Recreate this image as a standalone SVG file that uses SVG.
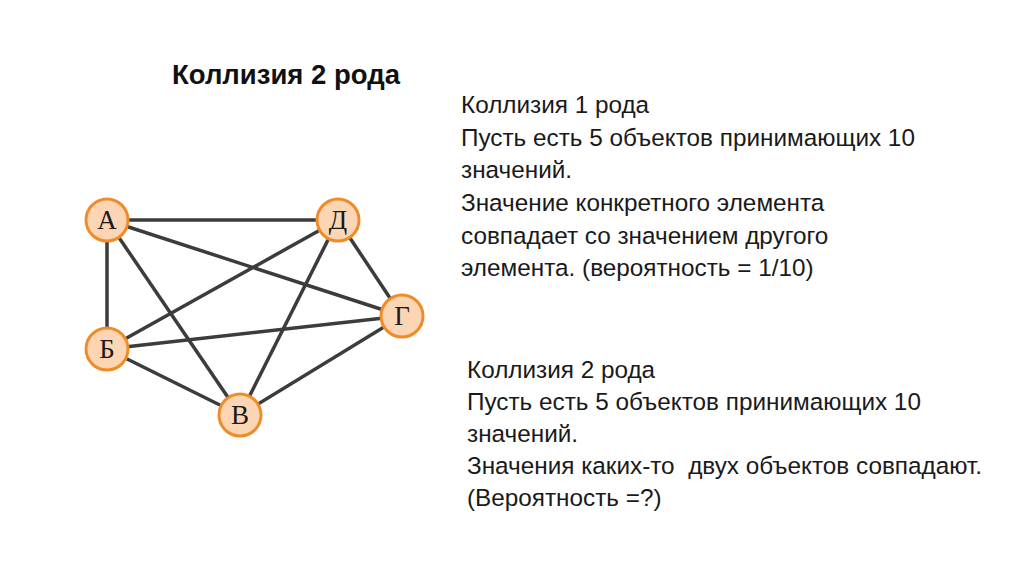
<svg xmlns="http://www.w3.org/2000/svg" width="1024" height="574" viewBox="0 0 1024 574">
<style>
.t{font-family:"Liberation Sans",Arial,sans-serif;font-size:24.3px;fill:#1a1a1a}
.h{font-family:"Liberation Sans",Arial,sans-serif;font-size:27.5px;font-weight:bold;fill:#111}
.n circle{fill:#fcd6b4;stroke:#f08c28;stroke-width:3}
.n text{font-family:"Liberation Serif","Times New Roman",serif;font-size:27px;fill:#1a1a1a;text-anchor:middle}
#edges line{stroke:#3c3c3c;stroke-width:3.5}
</style>
<rect width="1024" height="574" fill="#fff"/>
<text class="h" x="172" y="84">Коллизия 2 рода</text>
<g id="block1">
<text class="t" x="461" y="113">Коллизия 1 рода</text>
<text class="t" x="461" y="146">Пусть есть 5 объектов принимающих 10</text>
<text class="t" x="461" y="178">значений.</text>
<text class="t" x="461" y="211">Значение конкретного элемента</text>
<text class="t" x="461" y="244">совпадает со значением другого</text>
<text class="t" x="461" y="276">элемента. (вероятность = 1/10)</text>
</g>
<g id="block2">
<text class="t" x="467" y="378">Коллизия 2 рода</text>
<text class="t" x="467" y="410">Пусть есть 5 объектов принимающих 10</text>
<text class="t" x="467" y="442">значений.</text>
<text class="t" x="467" y="474" xml:space="preserve">Значения каких-то  двух объектов совпадают.</text>
<text class="t" x="467" y="506">(Вероятность =?)</text>
</g>
<g id="edges">
<line x1="107" y1="220" x2="338" y2="220"/>
<line x1="107" y1="220" x2="402" y2="316"/>
<line x1="107" y1="220" x2="107" y2="349"/>
<line x1="107" y1="220" x2="240" y2="415"/>
<line x1="338" y1="220" x2="107" y2="349"/>
<line x1="338" y1="220" x2="240" y2="415"/>
<line x1="338" y1="220" x2="402" y2="316"/>
<line x1="402" y1="316" x2="107" y2="349"/>
<line x1="402" y1="316" x2="240" y2="415"/>
<line x1="107" y1="349" x2="240" y2="415"/>
</g>
<g id="nodeA" class="n"><circle cx="107" cy="220" r="21"/><text x="107" y="229">А</text></g>
<g id="nodeD" class="n"><circle cx="338" cy="220" r="21"/><text x="338" y="229">Д</text></g>
<g id="nodeG" class="n"><circle cx="402" cy="316" r="21"/><text x="402" y="325">Г</text></g>
<g id="nodeB" class="n"><circle cx="107" cy="349" r="21"/><text x="107" y="358">Б</text></g>
<g id="nodeV" class="n"><circle cx="240" cy="415" r="21"/><text x="240" y="424">В</text></g>
</svg>
